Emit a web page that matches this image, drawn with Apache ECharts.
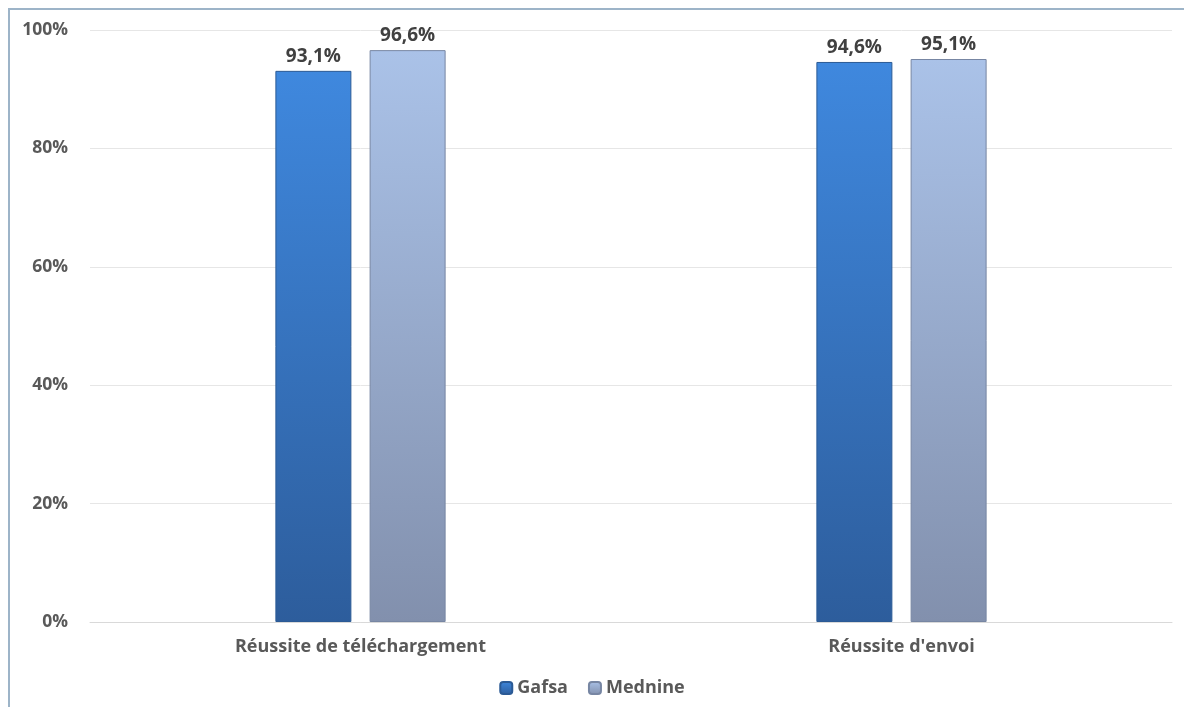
<!DOCTYPE html>
<html><head><meta charset="utf-8">
<script src="https://cdn.jsdelivr.net/npm/echarts@6/dist/echarts.min.js"></script>
<style>
html,body{margin:0;padding:0;background:#fff;}
#frame{position:absolute;left:8px;top:8px;width:1176px;height:699px;border-left:2px solid #9db4c8;border-top:2px solid #9db4c8;box-sizing:border-box;}
#c{position:absolute;left:0;top:0;width:1184px;height:707px;}
</style>
</head><body>
<div id="frame"></div>
<div id="c"></div>
<script>
const categories = ['Réussite de téléchargement', "Réussite d'envoi"];
const gafsa = [93.1, 94.6];
const mednine = [96.6, 95.1];
const yTicks = [0, 20, 40, 60, 80, 100];

const chart = echarts.init(document.getElementById('c'));
const font = 'Open Sans, "Noto Sans", sans-serif';
function grad(top, bottom){
  return new echarts.graphic.LinearGradient(0,0,0,1,[{offset:0,color:top},{offset:1,color:bottom}]);
}
const labelFmt = p => p.value.toFixed(1).replace('.', ',') + '%';
chart.setOption({
  animation:false,
  grid:{left:90,right:12,top:30,bottom:85},
  legend:{
    bottom:5,left:'center',itemWidth:12,itemHeight:12,itemGap:20,
    textStyle:{fontFamily:font,fontSize:18,fontWeight:'bold',color:'#595959'},
    data:['Gafsa','Mednine']
  },
  xAxis:{
    type:'category',data:categories,
    axisLine:{lineStyle:{color:'#d9d9d9'}},axisTick:{show:false},
    axisLabel:{fontFamily:font,fontSize:18,fontWeight:'bold',color:'#595959',margin:16}
  },
  yAxis:{
    type:'value',min:0,max:100,interval:20,
    axisLabel:{formatter:v=>v+'%',fontFamily:font,fontSize:17.5,fontWeight:'bold',color:'#595959',margin:22},
    splitLine:{lineStyle:{color:'#e6e6e6'}},axisLine:{show:false},axisTick:{show:false}
  },
  series:[
    {name:'Gafsa',type:'bar',data:gafsa,barWidth:76,barGap:'24%',
     itemStyle:{color:grad('#3f88de','#2d5d9c'),borderColor:'#2b5a95',borderWidth:1},
     label:{show:true,position:'top',formatter:labelFmt,fontFamily:font,fontSize:19,fontWeight:'bold',color:'#404040',distance:5}},
    {name:'Mednine',type:'bar',data:mednine,barWidth:76,
     itemStyle:{color:grad('#aac2e8','#8290ad'),borderColor:'#7786a3',borderWidth:1},
     label:{show:true,position:'top',formatter:labelFmt,fontFamily:font,fontSize:19,fontWeight:'bold',color:'#404040',distance:5}}
  ]
});
</script>
</body></html>
